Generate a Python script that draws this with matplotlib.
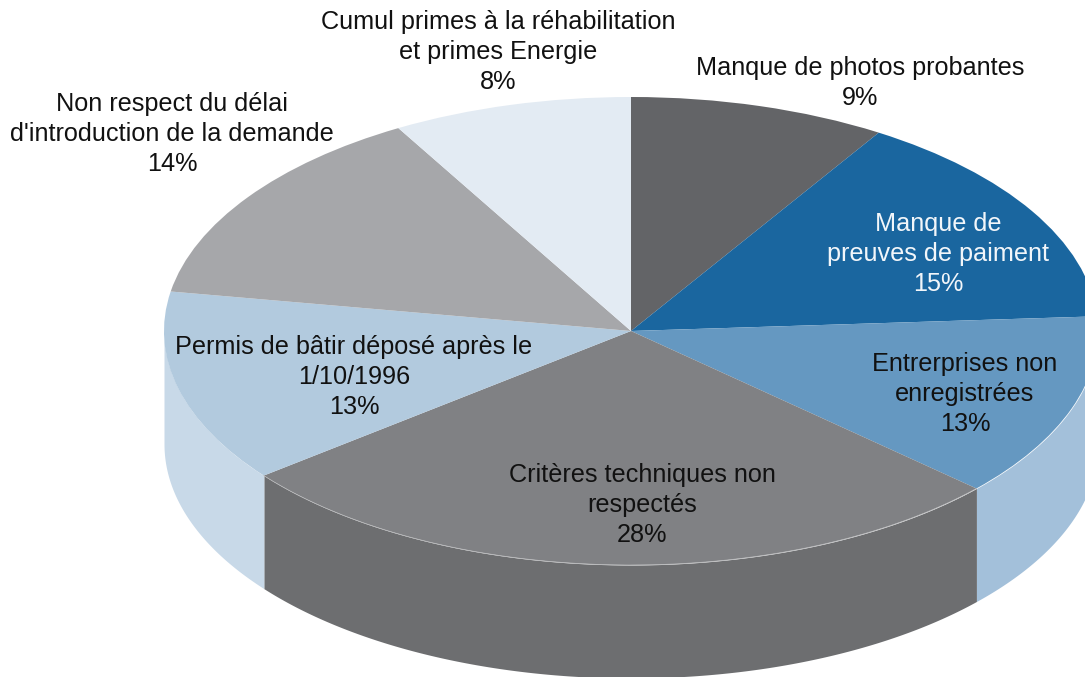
import numpy as np
import matplotlib
matplotlib.use("Agg")
import matplotlib.pyplot as plt

W, H = 1085, 677
CX, CY, RX, RY, DEPTH = 631, 331, 467, 234, 113

labels = ["Manque de photos probantes\n9%",
          "Manque de\npreuves de paiment\n15%",
          "Entrerprises non\nenregistrées\n13%",
          "Critères techniques non\nrespectés\n28%",
          "Permis de bâtir déposé après le\n1/10/1996\n13%",
          "Non respect du délai\nd'introduction de la demande\n14%",
          "Cumul primes à la réhabilitation\net primes Energie\n8%"]
shares = [8.9, 15.1, 12.75, 27.65, 13.3, 14.0, 8.3]
top_colors = ["#636467", "#1a669f", "#6598c1", "#808184", "#b2cade", "#a6a7aa", "#e3ebf3"]
wall_colors = ["#4d4e50", "#15527f", "#a3c0da", "#6d6e70", "#c8d9e8", "#858688", "#b5bcc2"]
label_px = [(860, 83), (938, 254), (965, 394), (642, 505), (354, 377), (172, 134), (498, 52)]
label_colors = ["#111111", "#f2f6fa", "#111111", "#111111", "#111111", "#111111", "#111111"]

fig = plt.figure(figsize=(W / 100, H / 100), dpi=100)
ax = fig.add_axes([0, 0, 1, 1])

def px(x, y):
    return (x - CX) / RX, (CY - y) / RY

wedges, _ = ax.pie(shares, colors=top_colors, startangle=90, counterclock=False, radius=1,
                   wedgeprops=dict(linewidth=0, antialiased=True))
for w in wedges:
    w.set_zorder(3)

# front wall of the pie: each slice's arc lowered by the depth
edges = np.cumsum([0] + shares) / sum(shares) * 360
d = DEPTH / RY
for a0, a1, c in zip(edges[:-1], edges[1:], wall_colors):
    lo, hi = max(a0, 90), min(a1, 270)
    if hi <= lo:
        continue
    t = np.radians(np.linspace(lo, hi, 200))
    ax.fill_between(np.sin(t), np.cos(t) - d, np.cos(t), color=c, linewidth=0, zorder=1)

# faint seam along the rim of the largest front slice
t = np.radians(np.linspace(edges[3], edges[4], 200))
ax.plot(np.sin(t), np.cos(t), color="#b4b5b7", lw=0.5, zorder=4)

for s, (x, y), c in zip(labels, label_px, label_colors):
    ax.text(*px(x, y), s, color=c, ha="center", va="center", fontsize=18.2,
            family="Liberation Sans", linespacing=1.3, zorder=5)

ax.set_aspect("auto")
ax.set_xlim(px(0, 0)[0], px(W, 0)[0])
ax.set_ylim(px(0, H)[1], px(0, 0)[1])
ax.axis("off")
fig.savefig("out.png", dpi=100, facecolor="white")
